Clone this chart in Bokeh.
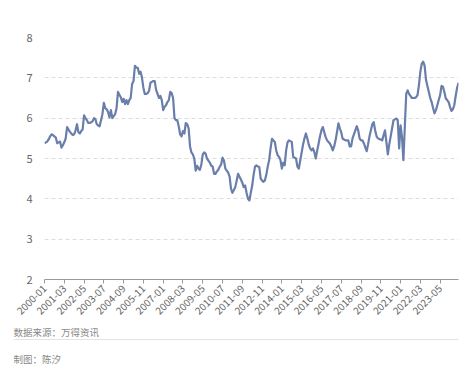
from math import pi
from bokeh.plotting import figure
from bokeh.models import Range1d, FixedTicker, Label, Span, ColumnDataSource
from bokeh.layouts import column
from bokeh.embed import file_html
from bokeh.resources import INLINE

# monthly values, 2000-01 .. 2024-06
v2000 = [5.38, 5.40, 5.42, 5.48, 5.55, 5.60, 5.58, 5.55, 5.52, 5.38, 5.40, 5.42]
v2001 = [5.27, 5.33, 5.40, 5.50, 5.78, 5.72, 5.66, 5.62, 5.58, 5.60, 5.70, 5.85]
v2002 = [5.65, 5.62, 5.68, 5.72, 6.07, 6.00, 5.95, 5.88, 5.88, 5.90, 5.92, 6.00]
v2003 = [5.98, 5.85, 5.82, 5.80, 5.95, 6.10, 6.38, 6.25, 6.22, 6.15, 6.02, 6.20]
v2004 = [6.00, 6.05, 6.10, 6.25, 6.65, 6.58, 6.52, 6.40, 6.48, 6.35, 6.45, 6.35]
v2005 = [6.45, 6.50, 6.85, 6.92, 7.30, 7.25, 7.25, 7.10, 7.15, 7.00, 6.75, 6.60]
v2006 = [6.60, 6.62, 6.68, 6.88, 6.90, 6.92, 6.92, 6.70, 6.60, 6.50, 6.55, 6.45]
v2007 = [6.20, 6.28, 6.32, 6.40, 6.45, 6.65, 6.62, 6.50, 6.00, 5.95, 5.95, 5.80]
v2008 = [5.60, 5.55, 5.68, 5.62, 5.88, 5.85, 5.75, 5.30, 5.15, 5.10, 5.00, 4.70]
v2009 = [4.82, 4.75, 4.72, 4.85, 5.10, 5.15, 5.12, 5.00, 4.95, 4.90, 4.82, 4.80]
v2010 = [4.62, 4.62, 4.68, 4.72, 4.80, 4.85, 5.02, 4.95, 4.75, 4.70, 4.65, 4.55]
v2011 = [4.25, 4.15, 4.22, 4.29, 4.45, 4.62, 4.55, 4.48, 4.40, 4.29, 4.33, 4.15]
v2012 = [4.00, 3.96, 4.15, 4.33, 4.60, 4.80, 4.83, 4.80, 4.79, 4.50, 4.45, 4.42]
v2013 = [4.46, 4.60, 4.80, 4.96, 5.25, 5.49, 5.45, 5.41, 5.20, 5.08, 5.04, 4.96]
v2014 = [4.75, 4.90, 4.83, 5.20, 5.40, 5.45, 5.43, 5.41, 5.04, 5.02, 5.00, 4.80]
v2015 = [4.75, 4.95, 5.15, 5.35, 5.50, 5.62, 5.50, 5.35, 5.25, 5.20, 5.25, 5.15]
v2016 = [5.00, 5.20, 5.37, 5.55, 5.70, 5.78, 5.65, 5.53, 5.45, 5.41, 5.37, 5.30]
v2017 = [5.20, 5.30, 5.45, 5.65, 5.87, 5.75, 5.65, 5.49, 5.47, 5.45, 5.45, 5.45]
v2018 = [5.30, 5.30, 5.50, 5.60, 5.70, 5.80, 5.70, 5.50, 5.45, 5.45, 5.38, 5.28]
v2019 = [5.18, 5.35, 5.55, 5.70, 5.85, 5.90, 5.70, 5.55, 5.50, 5.48, 5.47, 5.45]
v2020 = [5.58, 5.70, 5.40, 5.10, 5.35, 5.55, 5.75, 5.95, 5.97, 5.99, 5.95, 5.25]
v2021 = [5.82, 5.53, 4.96, 5.78, 6.60, 6.69, 6.60, 6.55, 6.50, 6.50, 6.50, 6.52]
v2022 = [6.57, 6.82, 7.15, 7.35, 7.40, 7.30, 6.95, 6.80, 6.65, 6.50, 6.40, 6.25]
v2023 = [6.12, 6.20, 6.32, 6.45, 6.57, 6.80, 6.78, 6.65, 6.49, 6.45, 6.40, 6.28]
v2024 = [6.18, 6.22, 6.32, 6.55, 6.75, 6.88]

values = (v2000 + v2001 + v2002 + v2003 + v2004 + v2005 + v2006 + v2007 + v2008
          + v2009 + v2010 + v2011 + v2012 + v2013 + v2014 + v2015 + v2016 + v2017
          + v2018 + v2019 + v2020 + v2021 + v2022 + v2023 + v2024)
months = [f"{2000 + i // 12}-{i % 12 + 1:02d}" for i in range(len(values))]

tick_labels = ["2000-01", "2001-03", "2002-05", "2003-07", "2004-09", "2005-11",
               "2007-01", "2008-03", "2009-05", "2010-07", "2011-09", "2012-11",
               "2014-01", "2015-03", "2016-05", "2017-07", "2018-09", "2019-11",
               "2021-01", "2022-03", "2023-05"]
y_ticks = [2, 3, 4, 5, 6, 7, 8]

source_text = "数据来源：万得资讯"
author_text = "制图：陈汐"

FONT = "Noto Sans CJK SC"
LINE_COLOR = "#6a7eab"

idx = list(range(len(values)))
tick_idx = [months.index(t) for t in tick_labels]
src = ColumnDataSource(dict(x=idx, y=values, month=months))

p = figure(width=466, height=324, x_range=Range1d(0, len(values) - 1),
           y_range=Range1d(2, 8), output_backend="svg", toolbar_location=None,
           min_border_left=44, min_border_right=8, min_border_top=37,
           min_border_bottom=45)
p.frame_align = False
p.outline_line_color = None
p.background_fill_color = "white"
p.border_fill_color = "white"

p.line("x", "y", source=src, line_color=LINE_COLOR, line_width=2.2,
       line_join="round")

# y axis
p.yaxis.ticker = FixedTicker(ticks=y_ticks)
p.yaxis.axis_line_color = None
p.yaxis.major_tick_line_color = None
p.yaxis.minor_tick_line_color = None
p.yaxis.major_label_text_color = "#666666"
p.yaxis.major_label_text_font = FONT
p.yaxis.major_label_text_font_size = "11px"
p.yaxis.major_label_standoff = 6

# x axis
p.xaxis.ticker = FixedTicker(ticks=tick_idx)
p.xaxis.major_label_overrides = {i: t for i, t in zip(tick_idx, tick_labels)}
p.xaxis.major_label_orientation = pi / 4
p.xaxis.axis_line_color = "#999999"
p.xaxis.major_tick_line_color = "#999999"
p.xaxis.major_tick_in = 0
p.xaxis.major_tick_out = 4
p.xaxis.minor_tick_line_color = None
p.xaxis.major_label_text_color = "#666666"
p.xaxis.major_label_text_font = FONT
p.xaxis.major_label_text_font_size = "10px"
p.xaxis.major_label_standoff = 3

p.xgrid.visible = False
p.ygrid.ticker = FixedTicker(ticks=y_ticks)
p.ygrid.grid_line_color = "#dddddd"
p.ygrid.grid_line_dash = "4 3"
p.ygrid.grid_line_width = 1

# footer
f = figure(width=466, height=50, x_range=Range1d(0, 445), y_range=Range1d(0, 50),
           output_backend="svg", toolbar_location=None,
           x_axis_location=None, y_axis_location=None,
           min_border_left=13, min_border_right=8, min_border_top=0, min_border_bottom=0)
f.frame_align = False
f.outline_line_color = None
f.xgrid.visible = False
f.ygrid.visible = False
f.add_layout(Label(x=0, y=43, text=source_text, text_font=FONT, text_font_size="9.5px",
                   text_color="#888888", text_baseline="middle"))
f.add_layout(Span(location=35, dimension="width", line_color="#e3e3e3", line_width=1))
f.add_layout(Label(x=0, y=16, text=author_text, text_font=FONT, text_font_size="9.5px",
                   text_color="#888888", text_baseline="middle"))

layout = column(p, f, spacing=0)
open("out.html", "w").write(file_html(layout, INLINE))
